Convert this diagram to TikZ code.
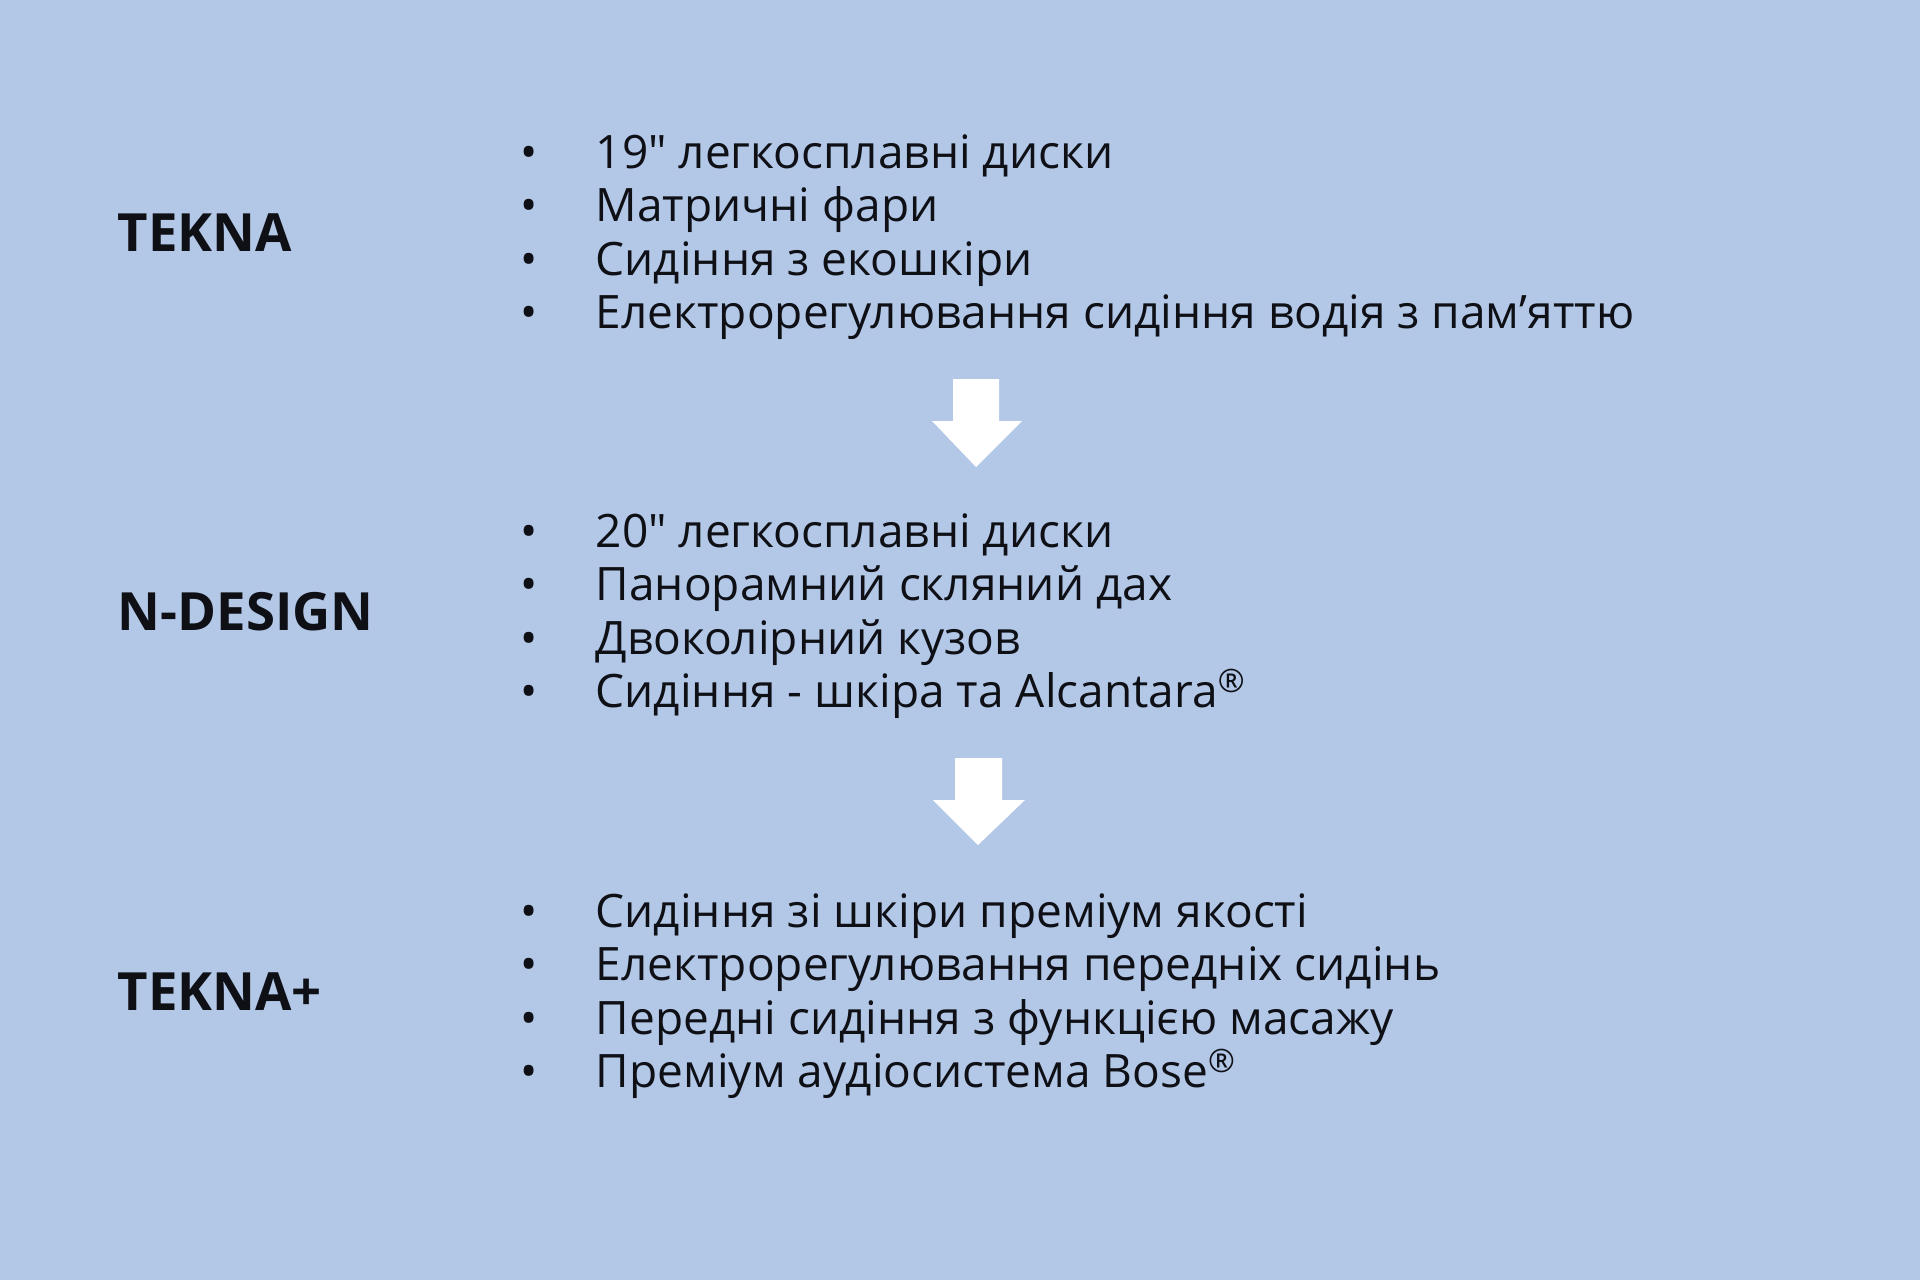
\documentclass[tikz,border=0pt]{standalone}
\usepackage{fontspec}
\setmainfont{Open Sans}[Ligatures=TeXOff]
\usetikzlibrary{positioning}

\definecolor{sky}{HTML}{B3C7E7}
\definecolor{ink}{HTML}{0E1016}

\tikzset{
  trim/.style={anchor=base west, font=\bfseries\fontsize{15}{18}\selectfont, text=ink, inner sep=0pt},
  item/.style={anchor=base west, font=\fontsize{13.1}{16}\selectfont, text=ink, inner sep=0pt},
  dot/.style={anchor=base, font=\fontsize{13}{16}\selectfont, text=ink, inner sep=0pt},
  blockarrow/.style={fill=white, draw=none}
}

\begin{document}
\begin{tikzpicture}[x=0.1mm, y=-0.1mm]
  \fill[sky] (0,0) rectangle (1920,1280);
  \useasboundingbox (0,0) rectangle (1920,1280);

  % trim levels
  \node[trim] (tekna) at (117,251) {TEKNA};
  \node[trim] (ndesign) at (117,630) {N-DESIGN};
  \node[trim] (teknaplus) at (117,1010) {TEKNA+};

  % feature lists
  \foreach \txt [count=\i] in {19" легкосплавні диски, Матричні фари, Сидіння з екошкіри, Електрорегулювання сидіння водія з пам’яттю}{
    \node[dot] (a-dot-\i) at (529,168+53.5*\i-53.5) {•};
    \node[item] (a-\i) at (595,168+53.5*\i-53.5) {\txt};
  }
  \foreach \txt [count=\i] in {20" легкосплавні диски, Панорамний скляний дах, Двоколірний кузов, Сидіння - шкіра та Alcantara\textsuperscript{®}}{
    \node[dot] (b-dot-\i) at (529,547+53.5*\i-53.5) {•};
    \node[item] (b-\i) at (595,547+53.5*\i-53.5) {\txt};
  }
  \foreach \txt [count=\i] in {Сидіння зі шкіри преміум якості, Електрорегулювання передніх сидінь, Передні сидіння з функцією масажу, Преміум аудіосистема Bose\textsuperscript{®}}{
    \node[dot] (c-dot-\i) at (529,927+53.5*\i-53.5) {•};
    \node[item] (c-\i) at (595,927+53.5*\i-53.5) {\txt};
  }

  % arrows between levels
  \fill[blockarrow] (953,379) -- (999,379) -- (999,421) -- (1022,421) -- (976,467) -- (932,421) -- (953,421) -- cycle;
  \fill[blockarrow] (955,758) -- (1002,758) -- (1002,800) -- (1025,800) -- (978,845) -- (933,800) -- (955,800) -- cycle;
\end{tikzpicture}
\end{document}
